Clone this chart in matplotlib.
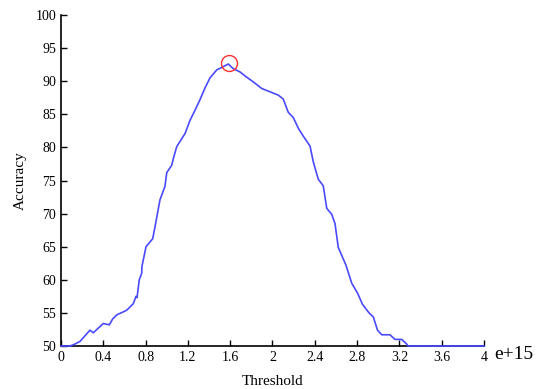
import numpy as np
import matplotlib
matplotlib.use("Agg")
from matplotlib import pyplot as plt

# threshold (x 1e15) / accuracy
threshold = [0.000, 0.085, 0.132, 0.180, 0.274, 0.305, 0.400, 0.457, 0.489, 0.527,
             0.621, 0.684, 0.709, 0.719, 0.740, 0.763, 0.765, 0.804, 0.867, 0.889,
             0.936, 0.983, 1.000, 1.047, 1.062, 1.094, 1.125, 1.173, 1.220, 1.267,
             1.314, 1.362, 1.409, 1.472, 1.535, 1.582, 1.629, 1.693, 1.740, 1.818,
             1.898, 1.992, 2.055, 2.102, 2.149, 2.197, 2.244, 2.291, 2.355, 2.386,
             2.433, 2.480, 2.513, 2.560, 2.591, 2.622, 2.695, 2.749, 2.804, 2.851,
             2.913, 2.953, 2.993, 3.033, 3.111, 3.158, 3.222, 3.269, 3.281, 4.000]
accuracy = [50.0, 50.0, 50.3, 50.7, 52.4, 52.0, 53.4, 53.2, 54.1, 54.7,
            55.4, 56.4, 57.5, 57.3, 60.0, 61.0, 62.0, 65.0, 66.2, 68.0,
            72.1, 74.1, 76.2, 77.3, 78.3, 80.1, 80.9, 82.1, 84.1, 85.6,
            87.2, 89.0, 90.5, 91.7, 92.2, 92.6, 91.9, 91.4, 90.8, 89.9,
            88.9, 88.3, 87.9, 87.3, 85.3, 84.5, 82.9, 81.7, 80.2, 77.8,
            75.2, 74.2, 70.8, 69.9, 68.5, 64.9, 62.2, 59.5, 58.0, 56.3,
            55.0, 54.4, 52.4, 51.7, 51.7, 51.0, 51.0, 50.3, 50.0, 50.0]
best_x = 1.59
best_y = 92.7

xticks = [0, 0.4, 0.8, 1.2, 1.6, 2, 2.4, 2.8, 3.2, 3.6, 4]
yticks = [50, 55, 60, 65, 70, 75, 80, 85, 90, 95, 100]

plt.rcParams['font.family'] = ['Liberation Serif', 'DejaVu Serif']

fig = plt.figure(figsize=(5.38, 3.89), dpi=100)
ax = fig.add_axes([0.1134, 0.1105, 0.7862, 0.8509])

ax.plot(threshold, accuracy, color='#4a4aff', lw=1.2, zorder=5, clip_on=False)
ax.plot([best_x], [best_y], 'o', ms=11.5, mfc='none', mec='#ff3030', mew=1.0,
        zorder=6, clip_on=False)

ax.set_xlim(0, 4)
ax.set_ylim(50, 100)
ax.set_xticks(xticks)
ax.set_xticklabels(['%g' % t for t in xticks])
ax.set_yticks(yticks)
ax.tick_params(direction='in', length=4, width=1, labelsize=10, colors='black')
for s in ['top', 'right']:
    ax.spines[s].set_visible(False)
for s in ['left', 'bottom']:
    ax.spines[s].set_linewidth(1.2)

ax.set_xlabel('Threshold', fontsize=11, labelpad=8)
ax.set_ylabel('Accuracy', fontsize=11, labelpad=6)
fig.text(0.918, 0.088, 'e+15', fontsize=14, ha='left', va='center')

fig.savefig('out.png', dpi=100)
